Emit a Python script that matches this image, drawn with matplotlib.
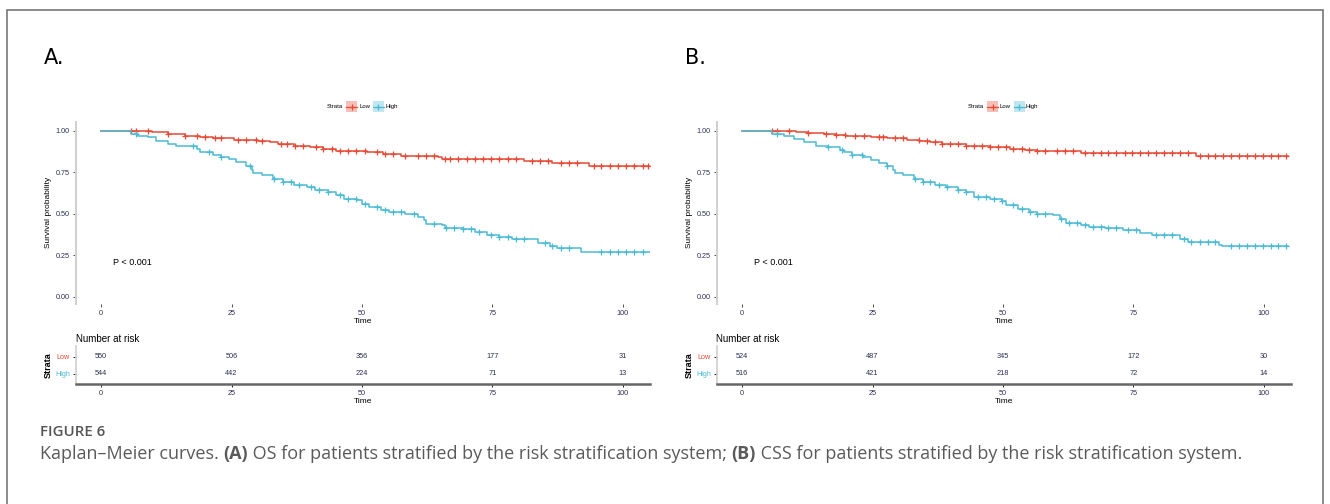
import numpy as np
import matplotlib
matplotlib.use("Agg")
import matplotlib.pyplot as plt
from matplotlib.patches import Rectangle
from matplotlib.lines import Line2D

# ---------------- data ----------------
strata = ["Low", "High"]
colors = {"Low": "#E64B35", "High": "#4DBBD5"}
time_ticks = [0, 25, 50, 75, 100]
surv_ticks = [0.0, 0.25, 0.50, 0.75, 1.00]
surv_tick_labels = ["0.00", "0.25", "0.50", "0.75", "1.00"]

# Panel A (OS): step event times and survival after each step
a_low_t = [9.7, 12.9, 16.0, 19.0, 21.5, 25.4, 30.0, 32.4, 34.0, 37.0, 40.0, 42.6, 45.0, 49.0, 51.0, 54.0, 57.5, 64.5, 65.4, 81.0, 86.5, 93.6]
a_low_s = [0.99, 0.98, 0.97, 0.96, 0.955, 0.945, 0.94, 0.93, 0.92, 0.905, 0.90, 0.89, 0.88, 0.875, 0.87, 0.86, 0.85, 0.84, 0.83, 0.815, 0.805, 0.79]
a_low_cens = [5.8, 6.7, 8.9, 12.9, 16.0, 18.3, 19.9, 21.9, 23.0, 26.2, 27.7, 29.7, 30.9, 34.4, 35.6, 37.1, 38.7, 41.1, 42.6, 44.2, 45.8, 47.3, 48.9, 50.5, 52.8, 54.4, 56.0, 58.3, 60.7, 62.2, 63.8, 65.9, 66.9, 68.5, 70.1, 71.6, 73.2, 74.8, 76.3, 77.9, 79.5, 82.6, 84.2, 85.7, 88.1, 89.7, 91.2, 94.4, 95.9, 97.5, 99.1, 100.6, 102.2, 103.8, 104.9]
a_low_end = 105.3

a_high_t = [5.8, 7.0, 9.0, 10.5, 12.9, 14.4, 18.3, 19.0, 21.5, 23.0, 24.6, 25.8, 27.7, 29.0, 29.2, 30.9, 33.0, 34.8, 37.0, 39.5, 41.0, 43.4, 45.0, 46.6, 49.0, 50.0, 51.3, 53.6, 55.2, 58.3, 60.7, 61.8, 62.2, 65.4, 66.0, 69.3, 71.6, 74.0, 76.3, 78.7, 83.8, 86.0, 87.3, 92.0]
a_high_s = [0.98, 0.97, 0.96, 0.94, 0.92, 0.905, 0.89, 0.87, 0.855, 0.84, 0.83, 0.81, 0.79, 0.765, 0.745, 0.73, 0.71, 0.69, 0.675, 0.66, 0.645, 0.63, 0.61, 0.59, 0.58, 0.56, 0.54, 0.525, 0.51, 0.50, 0.48, 0.46, 0.44, 0.43, 0.415, 0.405, 0.39, 0.37, 0.36, 0.345, 0.325, 0.305, 0.295, 0.27]
a_high_cens = [6.6, 17.6, 20.7, 23.0, 28.5, 33.2, 34.8, 36.4, 37.9, 40.3, 41.8, 43.4, 45.8, 47.3, 48.9, 50.5, 52.8, 54.4, 56.0, 57.5, 59.9, 63.8, 66.1, 67.7, 69.3, 70.8, 72.4, 74.8, 76.3, 77.9, 79.5, 81.0, 85.0, 86.5, 88.1, 89.7, 95.9, 97.5, 99.1, 100.6, 102.2, 103.8]
a_high_end = 105.3

a_risk_low = [550, 506, 356, 177, 31]
a_risk_high = [544, 442, 224, 71, 13]

# Panel B (CSS)
b_low_t = [10.4, 12.6, 15.7, 18.0, 20.0, 24.8, 27.8, 31.6, 34.0, 36.0, 38.4, 43.0, 44.5, 47.5, 51.3, 54.3, 56.6, 58.9, 65.0, 86.9]
b_low_s = [0.99, 0.985, 0.98, 0.975, 0.965, 0.96, 0.955, 0.945, 0.935, 0.93, 0.92, 0.91, 0.905, 0.90, 0.89, 0.885, 0.88, 0.875, 0.865, 0.85]
b_low_cens = [5.8, 6.7, 8.9, 12.7, 16.1, 18.0, 19.8, 21.7, 23.3, 26.3, 27.0, 29.3, 30.8, 33.9, 35.4, 36.9, 38.4, 39.9, 41.4, 43.0, 44.5, 46.0, 47.5, 49.0, 50.5, 52.0, 53.6, 55.0, 56.6, 58.1, 60.4, 61.9, 63.4, 65.7, 67.2, 68.7, 70.2, 71.7, 73.3, 74.8, 76.3, 77.8, 79.3, 80.8, 82.3, 83.9, 85.4, 87.7, 89.2, 90.7, 92.2, 93.7, 95.2, 96.7, 98.3, 99.8, 101.3, 102.8, 104.3]
b_low_end = 104.6

b_high_t = [5.8, 8.0, 10.0, 11.9, 14.2, 16.4, 18.7, 19.5, 21.0, 23.2, 24.8, 26.3, 27.8, 29.0, 29.3, 30.8, 33.0, 34.6, 36.9, 39.0, 41.4, 43.0, 44.5, 47.5, 49.8, 50.5, 52.8, 55.0, 56.6, 59.6, 61.0, 62.0, 65.0, 66.4, 69.5, 73.0, 76.3, 78.5, 83.9, 85.4, 91.4, 92.0]
b_high_s = [0.98, 0.965, 0.95, 0.93, 0.91, 0.90, 0.885, 0.87, 0.855, 0.84, 0.825, 0.805, 0.79, 0.765, 0.745, 0.73, 0.71, 0.69, 0.675, 0.66, 0.645, 0.63, 0.60, 0.59, 0.575, 0.55, 0.53, 0.51, 0.50, 0.49, 0.47, 0.445, 0.43, 0.42, 0.415, 0.40, 0.385, 0.37, 0.345, 0.33, 0.31, 0.305]
b_high_cens = [6.6, 16.4, 19.1, 21.0, 22.9, 27.8, 33.1, 34.6, 36.1, 37.7, 39.2, 41.4, 43.0, 45.2, 46.7, 48.3, 49.8, 52.0, 53.6, 55.1, 56.6, 58.1, 61.1, 62.7, 64.2, 65.7, 67.2, 68.7, 70.2, 71.7, 74.0, 75.5, 79.3, 80.8, 82.3, 84.6, 86.1, 87.7, 89.2, 90.7, 93.7, 95.2, 96.7, 98.3, 99.8, 101.3, 102.8, 104.3]
b_high_end = 104.6

b_risk_low = [524, 487, 345, 172, 30]
b_risk_high = [516, 421, 218, 72, 14]

panels = [
    dict(label="A.", curves={"Low": (a_low_t, a_low_s, a_low_cens, a_low_end),
                              "High": (a_high_t, a_high_s, a_high_cens, a_high_end)},
         risk={"Low": a_risk_low, "High": a_risk_high}),
    dict(label="B.", curves={"Low": (b_low_t, b_low_s, b_low_cens, b_low_end),
                              "High": (b_high_t, b_high_s, b_high_cens, b_high_end)},
         risk={"Low": b_risk_low, "High": b_risk_high}),
]

# ---------------- figure ----------------
W, H = 1330, 504
fig = plt.figure(figsize=(W / 100, H / 100), dpi=100)
FONT = "Liberation Sans"
tick_col = "#2c2c50"

def fx(px):
    return px / W

def fy(py):
    return 1 - py / H

# outer frame
fig.patches.append(Rectangle((fx(7), fy(530)), fx(1316), (530 - 10) / H,
                             transform=fig.transFigure, fill=False,
                             edgecolor="#777777", linewidth=1.2))

def step_value(t_ev, s_ev, t):
    s = 1.0
    for te, se in zip(t_ev, s_ev):
        if te <= t:
            s = se
    return s

for i, p in enumerate(panels):
    off = 641 * i
    # panel label
    fig.text(fx(44 + off), fy(58), p["label"], fontsize=15, family="DejaVu Sans",
             ha="left", va="center", color="black")

    # main KM axes
    ax = fig.add_axes([fx(75.5 + off), fy(304), fx(574.5), (304 - 121.7) / H])
    ax.set_xlim(-4.9, 105.2)
    ax.set_ylim(-0.044, 1.054)
    for name in strata:
        t_ev, s_ev, cens, t_end = p["curves"][name]
        xs = [0.0] + list(t_ev) + [t_end]
        ys = [1.0] + list(s_ev) + [s_ev[-1]]
        ax.step(xs, ys, where="post", color=colors[name], lw=1.1)
        cy = [step_value(t_ev, s_ev, c) for c in cens]
        ax.plot(cens, cy, ls="none", marker="+", ms=5, mew=0.9, color=colors[name])
    for sp in ["top", "right", "bottom"]:
        ax.spines[sp].set_visible(False)
    ax.spines["left"].set_color("#cfcfcf")
    ax.spines["left"].set_linewidth(1.4)
    ax.set_xticks(time_ticks)
    ax.set_xticklabels([str(t) for t in time_ticks])
    ax.set_yticks(surv_ticks)
    ax.set_yticklabels(surv_tick_labels)
    ax.tick_params(axis="both", labelsize=5.2, colors="#333333", length=2, width=0.6,
                   labelcolor=tick_col, pad=2)
    for lab in ax.get_xticklabels() + ax.get_yticklabels():
        lab.set_family(FONT)
    ax.set_xlabel("Time", fontsize=6, family=FONT, labelpad=1)
    ax.set_ylabel("Survival probability", fontsize=6, family=FONT, labelpad=3)
    ax.text(2.3, 0.205, "P < 0.001", fontsize=6.5, family=FONT, ha="left", va="center")
    ax.patch.set_alpha(0)

    # legend (manual, ggplot style)
    ly = fy(106.5)
    fig.text(fx(327 + off), ly, "Strata", fontsize=4.3, family=FONT, va="center", ha="left")
    kx = [346 + off, 372.5 + off]
    for name, x0, lbl_x in zip(strata, kx, [359 + off, 385 + off]):
        fig.patches.append(Rectangle((fx(x0), fy(112)), fx(11), 11 / H,
                                     transform=fig.transFigure, facecolor=colors[name],
                                     alpha=0.35, edgecolor="none"))
        fig.lines.append(Line2D([fx(x0), fx(x0 + 11)], [ly, ly], transform=fig.transFigure,
                                color=colors[name], lw=0.9))
        fig.lines.append(Line2D([fx(x0 + 5.5)], [ly], transform=fig.transFigure,
                                color=colors[name], marker="+", ms=5, mew=0.9))
        fig.text(fx(lbl_x), ly, name, fontsize=4.3, family=FONT, va="center", ha="left")

    # risk table
    rt = fig.add_axes([fx(75.5 + off), fy(384), fx(574.5), (384 - 345.7) / H])
    rt.set_xlim(-4.9, 105.2)
    rt.set_ylim(0.42, 2.64)
    for row_y, name in zip([2, 1], strata):
        for t, n in zip(time_ticks, p["risk"][name]):
            rt.text(t, row_y, str(n), fontsize=5.3, family=FONT, ha="center", va="center",
                    color=tick_col)
    rt.set_yticks([2, 1])
    rt.set_yticklabels(strata)
    for lab, name in zip(rt.get_yticklabels(), strata):
        lab.set_color(colors[name])
        lab.set_family(FONT)
    rt.set_xticks(time_ticks)
    rt.set_xticklabels([str(t) for t in time_ticks])
    for lab in rt.get_xticklabels():
        lab.set_family(FONT)
    rt.tick_params(axis="both", labelsize=5.2, length=2, width=0.6, pad=2)
    rt.tick_params(axis="x", labelcolor=tick_col)
    for sp in ["top", "right"]:
        rt.spines[sp].set_visible(False)
    rt.spines["left"].set_color("#cfcfcf")
    rt.spines["left"].set_linewidth(1.2)
    rt.spines["bottom"].set_color("#666666")
    rt.spines["bottom"].set_linewidth(1.8)
    rt.set_xlabel("Time", fontsize=6, family=FONT, labelpad=1)
    rt.set_ylabel("Strata", fontsize=6.5, family=FONT, fontweight="bold", labelpad=2)
    rt.set_title("Number at risk", fontsize=7, family=FONT, loc="left", pad=3)
    rt.patch.set_alpha(0)

# caption
fig.text(fx(40), fy(432), "FIGURE 6", fontsize=10.8, family="Open Sans", color="#555555",
         ha="left", va="center", fontweight="semibold")
cap_parts = [
    ("Kaplan\u2013Meier curves. ", "normal"),
    ("(A)", "bold"),
    (" OS for patients stratified by the risk stratification system; ", "normal"),
    ("(B)", "bold"),
    (" CSS for patients stratified by the risk stratification system.", "normal"),
]
renderer = fig.canvas.get_renderer()
x_cur = fx(40)
for txt, wt in cap_parts:
    t = fig.text(x_cur, fy(454), txt, fontsize=13, family="Open Sans", color="#5a5a5a",
                 ha="left", va="center", fontweight=wt)
    bb = t.get_window_extent(renderer=renderer)
    x_cur += bb.width / W

fig.savefig("out.png", dpi=100)
